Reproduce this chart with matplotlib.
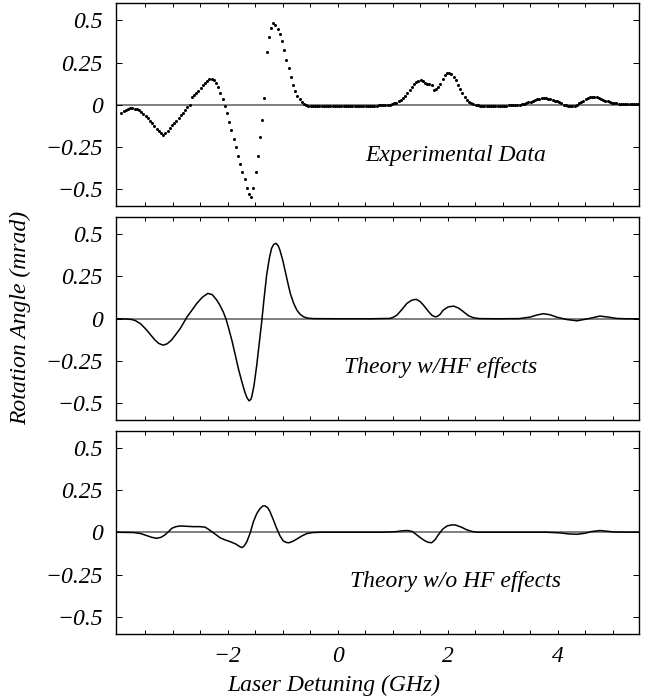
import matplotlib
matplotlib.use("Agg")
import matplotlib.pyplot as plt
import numpy as np

plt.rcParams['font.family'] = ['Liberation Serif', 'DejaVu Serif']
plt.rcParams['font.style'] = 'italic'
plt.rcParams['font.size'] = 17

# measured rotation, evenly sampled scan from -3.93 to 5.47 GHz
exp_start, exp_stop = -3.93, 5.47
exp_rot = [
    -0.047, -0.038, -0.030, -0.024, -0.021, -0.020, -0.022, -0.026, -0.033, -0.040,
    -0.052, -0.064, -0.078, -0.093, -0.108, -0.124, -0.140, -0.155, -0.168, -0.179,
    -0.168, -0.152, -0.137, -0.122, -0.108, -0.094, -0.078, -0.062, -0.046, -0.031,
    -0.015, 0.002, 0.045, 0.058, 0.070, 0.084, 0.100, 0.115, 0.130, 0.142,
    0.150, 0.152, 0.145, 0.128, 0.105, 0.070, 0.035, -0.005, -0.051, -0.100,
    -0.150, -0.200, -0.250, -0.300, -0.350, -0.395, -0.440, -0.490, -0.530, -0.544,
    -0.490, -0.400, -0.300, -0.190, -0.090, 0.040, 0.310, 0.400, 0.455, 0.485,
    0.470, 0.450, 0.420, 0.375, 0.325, 0.265, 0.215, 0.165, 0.115, 0.080,
    0.055, 0.035, 0.018, 0.006, -0.003, -0.008, -0.009, -0.009, -0.008, -0.008,
    -0.008, -0.007, -0.007, -0.007, -0.006, -0.006, -0.006, -0.006, -0.005, -0.005,
    -0.005, -0.006, -0.006, -0.007, -0.007, -0.007, -0.007, -0.006, -0.006, -0.006,
    -0.006, -0.006, -0.005, -0.005, -0.005, -0.004, -0.004, -0.003, -0.003, -0.002,
    -0.002, -0.001, 0.001, 0.004, 0.008, 0.013, 0.020, 0.029, 0.040, 0.052,
    0.070, 0.090, 0.107, 0.122, 0.135, 0.143, 0.146, 0.140, 0.131, 0.126,
    0.124, 0.117, 0.085, 0.095, 0.108, 0.122, 0.150, 0.176, 0.190, 0.190,
    0.180, 0.166, 0.145, 0.120, 0.095, 0.070, 0.048, 0.030, 0.017, 0.008,
    0.003, -0.001, -0.003, -0.004, -0.004, -0.005, -0.005, -0.005, -0.005, -0.005,
    -0.005, -0.005, -0.005, -0.004, -0.004, -0.004, -0.003, -0.003, -0.002, -0.001,
    0.000, 0.001, 0.003, 0.006, 0.010, 0.014, 0.019, 0.024, 0.029, 0.033,
    0.036, 0.038, 0.039, 0.039, 0.037, 0.034, 0.030, 0.025, 0.020, 0.014,
    0.008, 0.002, -0.003, -0.007, -0.008, -0.007, -0.004, 0.001, 0.008, 0.016,
    0.024, 0.032, 0.039, 0.044, 0.047, 0.047, 0.044, 0.040, 0.035, 0.030,
    0.025, 0.020, 0.015, 0.012, 0.010, 0.008, 0.007, 0.006, 0.006, 0.006,
    0.006, 0.006, 0.006, 0.007, 0.007, 0.007,
]

# theory including hyperfine structure
hf_det = [
    -4.02, -3.85, -3.75, -3.68, -3.58, -3.47, -3.40, -3.32, -3.25, -3.17,
    -3.10, -3.02, -2.94, -2.86, -2.74, -2.65, -2.56, -2.46, -2.36, -2.28,
    -2.20, -2.14, -2.08, -2.03, -1.99, -1.92, -1.86, -1.80, -1.74, -1.69,
    -1.65, -1.61, -1.58, -1.56, -1.52, -1.47, -1.43, -1.38, -1.34, -1.29,
    -1.24, -1.20, -1.16, -1.12, -1.08, -1.05, -1.00, -0.95, -0.90, -0.86,
    -0.80, -0.74, -0.68, -0.62, -0.55, -0.45, 0.00, 0.60, 0.95, 1.02,
    1.08, 1.17, 1.26, 1.35, 1.43, 1.50, 1.56, 1.64, 1.71, 1.76,
    1.80, 1.86, 1.92, 2.01, 2.11, 2.20, 2.29, 2.38, 2.47, 2.58,
    2.90, 3.30, 3.50, 3.62, 3.74, 3.86, 3.98, 4.16, 4.35, 4.55,
    4.77, 4.92, 5.07, 5.25, 5.48,
]
hf_rot = [
    0.000, -0.001, -0.004, -0.010, -0.030, -0.067, -0.095, -0.126, -0.146, -0.156,
    -0.148, -0.126, -0.092, -0.057, 0.010, 0.050, 0.091, 0.127, 0.150, 0.143,
    0.112, 0.080, 0.041, 0.000, -0.045, -0.130, -0.215, -0.300, -0.373, -0.430,
    -0.465, -0.485, -0.478, -0.460, -0.395, -0.274, -0.160, -0.018, 0.110, 0.259,
    0.360, 0.417, 0.440, 0.446, 0.432, 0.407, 0.350, 0.278, 0.205, 0.150,
    0.092, 0.051, 0.026, 0.012, 0.004, 0.001, 0.000, 0.000, 0.002, 0.010,
    0.022, 0.055, 0.091, 0.110, 0.115, 0.102, 0.081, 0.048, 0.022, 0.013,
    0.012, 0.025, 0.051, 0.070, 0.075, 0.063, 0.041, 0.018, 0.006, 0.001,
    0.000, 0.001, 0.010, 0.022, 0.030, 0.024, 0.010, -0.004, -0.012, 0.000,
    0.016, 0.010, 0.002, 0.000, 0.000,
]

# theory without hyperfine structure
nohf_det = [
    -4.02, -3.70, -3.58, -3.47, -3.38, -3.29, -3.21, -3.14, -3.07, -3.01,
    -2.94, -2.86, -2.74, -2.62, -2.50, -2.41, -2.35, -2.29, -2.21, -2.14,
    -2.05, -1.95, -1.85, -1.78, -1.74, -1.70, -1.65, -1.59, -1.53, -1.47,
    -1.41, -1.36, -1.32, -1.27, -1.23, -1.17, -1.11, -1.05, -0.99, -0.93,
    -0.88, -0.81, -0.74, -0.65, -0.56, -0.45, -0.30, 0.80, 1.05, 1.20,
    1.28, 1.36, 1.44, 1.52, 1.59, 1.65, 1.71, 1.77, 1.83, 1.91,
    1.99, 2.07, 2.14, 2.25, 2.35, 2.45, 2.55, 3.80, 4.05, 4.20,
    4.35, 4.50, 4.62, 4.77, 4.92, 5.05, 5.48,
]
nohf_rot = [
    0.000, -0.002, -0.008, -0.020, -0.030, -0.036, -0.030, -0.016, 0.005, 0.024,
    0.033, 0.037, 0.035, 0.033, 0.033, 0.030, 0.018, 0.004, -0.015, -0.032,
    -0.045, -0.056, -0.070, -0.085, -0.091, -0.082, -0.056, -0.005, 0.063, 0.110,
    0.140, 0.155, 0.156, 0.145, 0.122, 0.075, 0.024, -0.020, -0.051, -0.061,
    -0.062, -0.053, -0.040, -0.022, -0.008, -0.002, 0.000, 0.000, 0.003, 0.009,
    0.010, 0.004, -0.016, -0.036, -0.051, -0.060, -0.062, -0.045, -0.016, 0.018,
    0.037, 0.043, 0.043, 0.030, 0.014, 0.004, 0.000, 0.000, -0.004, -0.010,
    -0.012, -0.006, 0.004, 0.010, 0.005, 0.001, 0.000,
]

panel_titles = ["Experimental Data", "Theory w/HF effects", "Theory w/o HF effects"]
title_pos = [(2.15, -0.30), (1.88, -0.29), (2.14, -0.29)]

yticks = [-0.5, -0.25, 0, 0.25, 0.5]
ytick_labels = ["\u22120.5", "\u22120.25", "0", "0.25", "0.5"]
xticks = [-2, 0, 2, 4]
xtick_labels = ["\u22122", "0", "2", "4"]

fig = plt.figure(figsize=(6.49, 6.98), dpi=100)
left, width, height = 0.1795, 0.8051, 0.2908
bottoms = [0.7044, 0.3979, 0.0921]
axs = [fig.add_axes([left, b, width, height]) for b in bottoms]

exp_det = np.linspace(exp_start, exp_stop, len(exp_rot))
axs[0].plot(exp_det, exp_rot, 'o', color='black', ms=2.2, mew=0, zorder=3)
axs[1].plot(hf_det, hf_rot, color='black', lw=1.1, zorder=3)
axs[2].plot(nohf_det, nohf_rot, color='black', lw=1.1, zorder=3)

for i, ax in enumerate(axs):
    ax.axhline(0, color='#808080', lw=1.4, zorder=1)
    ax.set_xlim(-4.02, 5.48)
    ax.set_ylim(-0.6, 0.6)
    ax.set_yticks(yticks)
    ax.set_yticklabels(ytick_labels)
    ax.set_xticks(xticks)
    ax.set_xticks(np.arange(-3.5, 5.5, 0.5), minor=True)
    ax.tick_params(which='both', direction='in', top=True, right=True,
                   length=3, width=0.7)
    ax.tick_params(axis='y', length=4, pad=10)
    ax.tick_params(axis='x', pad=9)
    for s in ax.spines.values():
        s.set_linewidth(1.0)
    if i < 2:
        ax.set_xticklabels([])
    else:
        ax.set_xticklabels(xtick_labels)
    ax.text(title_pos[i][0], title_pos[i][1], panel_titles[i],
            ha='center', va='center')

fig.text(21 / 649, 1 - 318 / 698, "Rotation Angle (mrad)", rotation=90,
         ha='center', va='center')
fig.text(334 / 649, 1 - 685 / 698, "Laser Detuning (GHz)",
         ha='center', va='center')

fig.savefig('out.png', dpi=100)
